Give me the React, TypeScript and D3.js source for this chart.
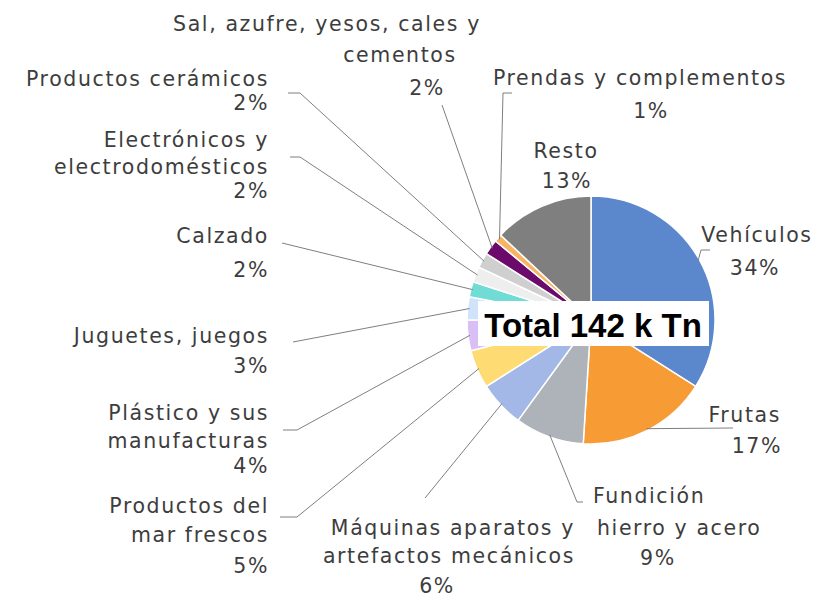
import React, { useEffect, useRef } from 'react'
import * as d3 from 'd3'

// pie order, clockwise from 12 o'clock
const categories = [
  'Vehículos',
  'Frutas',
  'Fundición, hierro y acero',
  'Máquinas aparatos y artefactos mecánicos',
  'Productos del mar frescos',
  'Plástico y sus manufacturas',
  'Juguetes, juegos',
  'Calzado',
  'Electrónicos y electrodomésticos',
  'Productos cerámicos',
  'Sal, azufre, yesos, cales y cementos',
  'Prendas y complementos',
  'Resto'
]
const shares = [34, 17, 9, 6, 5, 4, 3, 2, 2, 2, 2, 1, 13]
// how each label is wrapped in the picture
const nameLines = [
  ['Vehículos'],
  ['Frutas'],
  ['Fundición', 'hierro y acero'],
  ['Máquinas aparatos y', 'artefactos mecánicos'],
  ['Productos del', 'mar frescos'],
  ['Plástico y sus', 'manufacturas'],
  ['Juguetes, juegos'],
  ['Calzado'],
  ['Electrónicos y', 'electrodomésticos'],
  ['Productos cerámicos'],
  ['Sal, azufre, yesos, cales y', 'cementos'],
  ['Prendas y complementos'],
  ['Resto']
]
const colors = [
  '#5b87cc', '#f79b35', '#adb3b8', '#a3b8e6', '#ffdb73', '#dabff6', '#cfe3fa',
  '#70dcd5', '#eeeeee', '#cfcfcf', '#6b0a6b', '#f7b463', '#7f7f7f'
]
const totalLabel = 'Total 142 k Tn'

const width = 816
const height = 598
const cx = 591
const cy = 320
const radius = 124

// label placement: one entry per text line [x, baseline, anchor], then leader points near the label
const labelPos: [number, number, string][][] = [
  [[757, 242, 'middle'], [755, 275, 'middle']],
  [[781, 422, 'end'], [782, 453, 'end']],
  [[593, 503, 'start'], [597, 535, 'start'], [640, 565, 'start']],
  [[575, 535, 'end'], [575, 563, 'end'], [437, 593, 'middle']],
  [[269, 513, 'end'], [269, 542, 'end'], [269, 573, 'end']],
  [[269, 420, 'end'], [269, 448, 'end'], [269, 473, 'end']],
  [[269, 343, 'end'], [269, 373, 'end']],
  [[269, 243, 'end'], [269, 277, 'end']],
  [[269, 147, 'end'], [269, 174, 'end'], [269, 198, 'end']],
  [[269, 86, 'end'], [269, 110, 'end']],
  [[327, 31, 'middle'], [400, 62, 'middle'], [427, 95, 'middle']],
  [[640, 85, 'middle'], [651, 118, 'middle']],
  [[566, 158, 'middle'], [567, 188, 'middle']]
]
const leaderPos: [number, number][][] = [
  [[710, 250], [701, 250]],
  [[733, 428]],
  [[583, 502], [577, 502]],
  [[425, 498]],
  [[280, 517], [297, 517]],
  [[283, 430], [297, 430]],
  [[293, 342]],
  [[282, 243]],
  [[290, 157], [300, 157]],
  [[288, 93], [300, 93]],
  [[442, 105]],
  [[512, 93], [503, 93]],
  []
]

export default function App() {
  const ref = useRef<SVGSVGElement>(null)

  useEffect(() => {
    const svg = d3.select(ref.current)
    svg.selectAll('*').remove()

    const pie = d3.pie<number>().sort(null).value(d => d)
    const arcs = pie(shares)
    const arc = d3.arc<d3.PieArcDatum<number>>().innerRadius(0).outerRadius(radius)
    const edgeArc = d3.arc<d3.PieArcDatum<number>>().innerRadius(radius - 2).outerRadius(radius - 2)

    const g = svg.append('g').attr('transform', `translate(${cx},${cy})`)

    g.selectAll('path.slice')
      .data(arcs)
      .enter()
      .append('path')
      .attr('class', 'slice')
      .attr('d', arc)
      .attr('fill', (d, i) => colors[i])
      .attr('stroke', '#ffffff')
      .attr('stroke-width', 1.5)

    // leader lines from the label to the slice edge
    const line = d3.line()
    arcs.forEach((d, i) => {
      const pts = leaderPos[i]
      if (!pts.length) return
      const [ex, ey] = edgeArc.centroid(d)
      svg.append('path')
        .attr('d', line([...pts, [cx + ex, cy + ey]]))
        .attr('fill', 'none')
        .attr('stroke', '#7f7f7f')
        .attr('stroke-width', 1)
    })

    // labels
    const labels = svg.append('g')
      .attr('font-family', '"DejaVu Sans", sans-serif')
      .attr('font-size', 20.5)
      .attr('letter-spacing', 1.6)
      .attr('fill', '#3d3d3d')
    arcs.forEach((d, i) => {
      const texts = [...nameLines[i], `${shares[i]}%`]
      texts.forEach((t, j) => {
        const [x, y, anchor] = labelPos[i][j]
        labels.append('text')
          .attr('x', x)
          .attr('y', y)
          .attr('text-anchor', anchor)
          .text(t)
      })
    })

    // total box over the middle
    svg.append('rect')
      .attr('x', 478)
      .attr('y', 301)
      .attr('width', 231)
      .attr('height', 45)
      .attr('fill', '#ffffff')
    svg.append('text')
      .attr('x', 593)
      .attr('y', 337)
      .attr('text-anchor', 'middle')
      .attr('font-family', '"Liberation Sans", Arial, sans-serif')
      .attr('font-weight', 'bold')
      .attr('font-size', 33)
      .attr('fill', '#000000')
      .text(totalLabel)
  }, [])

  return (
    <svg
      ref={ref}
      width={width}
      height={height}
      style={{ position: 'absolute', left: 0, top: 0, background: '#ffffff' }}
    />
  )
}
